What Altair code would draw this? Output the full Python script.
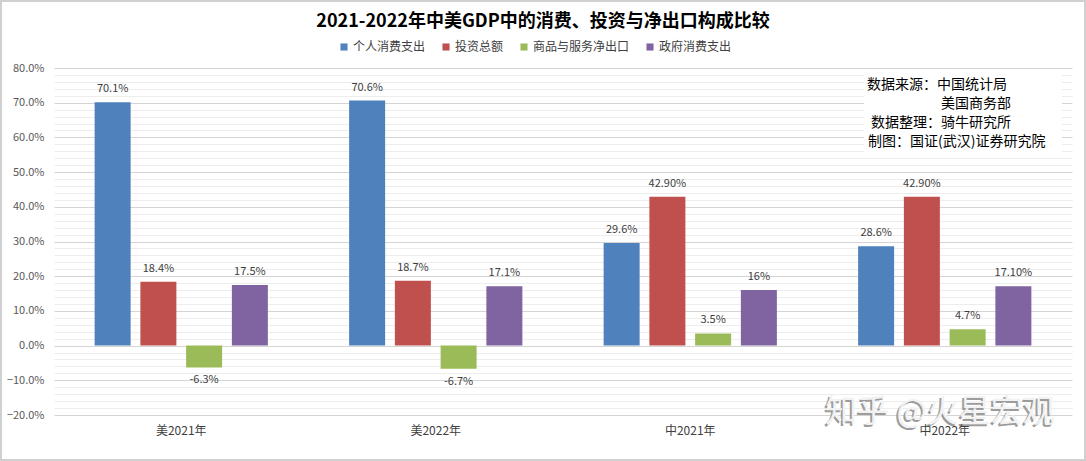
import altair as alt
import pandas as pd

groups = ["美2021年", "美2022年", "中2021年", "中2022年"]
series = ["个人消费支出", "投资总额", "商品与服务净出口", "政府消费支出"]
colors = ["#4F81BD", "#C0504D", "#9BBB59", "#8064A2"]

personal = [70.1, 70.6, 29.6, 28.6]
invest = [18.4, 18.7, 42.9, 42.9]
netexp = [-6.3, -6.7, 3.5, 4.7]
gov = [17.5, 17.1, 16.0, 17.1]

personal_lbl = ["70.1%", "70.6%", "29.6%", "28.6%"]
invest_lbl = ["18.4%", "18.7%", "42.90%", "42.90%"]
netexp_lbl = ["-6.3%", "-6.7%", "3.5%", "4.7%"]
gov_lbl = ["17.5%", "17.1%", "16%", "17.10%"]

title_text = "2021-2022年中美GDP中的消费、投资与净出口构成比较"
note_lines = ["数据来源：中国统计局", "美国商务部", "数据整理：骑牛研究所", "制图：国证(武汉)证券研究院"]
watermark = "知乎 @火星宏观"

y_ticks = list(range(-20, 81, 2))

rows = []
for s, vals, lbls in zip(series, [personal, invest, netexp, gov],
                         [personal_lbl, invest_lbl, netexp_lbl, gov_lbl]):
    for g, v, l in zip(groups, vals, lbls):
        rows.append({"group": g, "series": s, "value": v, "label": l})
df = pd.DataFrame(rows)

FONT = "Noto Sans CJK SC"
W, H = 1018, 347
PL, PT = 54, 68

x_enc = alt.X("group:N", sort=groups, title=None,
              scale=alt.Scale(paddingInner=0, paddingOuter=0),
              axis=alt.Axis(labelAngle=0, ticks=False, domain=False, grid=False,
                            labelFontSize=12, labelColor="#404040", labelPadding=10,
                            labelFont=FONT, zindex=1))
xoff = alt.XOffset("series:N", sort=series,
                   scale=alt.Scale(paddingInner=0.217, paddingOuter=0.89))
y_enc = alt.Y("value:Q", title=None,
              scale=alt.Scale(domain=[-20, 80], nice=False, zero=False),
              axis=alt.Axis(values=y_ticks, ticks=False, domain=False,
                            labelExpr="datum.value % 10 == 0 ? format(datum.value/100, '.1%') : ''",
                            labelFontSize=11, labelColor="#595959", labelPadding=10,
                            labelFont=FONT, labelOverlap=False,
                            gridColor={"condition": {"test": "datum.value % 10 == 0", "value": "#D4D4D4"},
                                       "value": "#EDEDED"},
                            gridWidth=1))

base = alt.Chart(df)

bars = base.mark_bar(size=36).encode(
    x=x_enc, xOffset=xoff, y=y_enc,
    color=alt.Color("series:N", sort=series,
                    scale=alt.Scale(domain=series, range=colors),
                    legend=alt.Legend(title=None, orient="none", direction="horizontal",
                                      legendX=284, legendY=-27, symbolType="square",
                                      symbolSize=50, symbolStrokeWidth=0,
                                      labelFontSize=12, labelColor="#404040", labelFont=FONT,
                                      columnPadding=14, labelOffset=3, padding=0)),
)

pos_lbl = base.transform_filter("datum.value >= 0").mark_text(
    baseline="bottom", dy=-8, fontSize=11, color="#404040", font=FONT
).encode(x=x_enc, xOffset=xoff, y=y_enc, text="label:N")

neg_lbl = base.transform_filter("datum.value < 0").mark_text(
    baseline="top", dy=7, fontSize=11, color="#404040", font=FONT
).encode(x=x_enc, xOffset=xoff, y=y_enc, text="label:N")

one = pd.DataFrame({"t": [title_text]})
title = alt.Chart(one).mark_text(fontSize=18, fontWeight="bold", color="#000000",
                                 font=FONT, align="center", baseline="middle").encode(
    x=alt.value(543 - PL), y=alt.value(22 - PT), text="t:N")

note_box = alt.Chart(pd.DataFrame({"a": [1]})).mark_rect(fill="white").encode(
    x=alt.value(864 - PL), x2=alt.value(1062 - PL), y=alt.value(74 - PT), y2=alt.value(153 - PT))
note_x = [867, 941, 871, 868]
note_y = [85, 104, 123, 142]
notes = []
for i, line in enumerate(note_lines):
    d = pd.DataFrame({"t": [line]})
    notes.append(alt.Chart(d).mark_text(fontSize=14, color="#000000", font=FONT,
                                        align="left", baseline="middle").encode(
        x=alt.value(note_x[i] - PL), y=alt.value(note_y[i] - PT), text="t:N"))

wm = pd.DataFrame({"t": [watermark]})
wm_shadow = alt.Chart(wm).mark_text(fontSize=32, color="#9C9C9C", font=FONT,
                                    align="center", baseline="middle").encode(
    x=alt.value(938 - PL), y=alt.value(414 - PT), text="t:N")
wm_main = alt.Chart(wm).mark_text(fontSize=32, color="#F2F2F2", font=FONT,
                                  align="center", baseline="middle").encode(
    x=alt.value(940 - PL), y=alt.value(412 - PT), text="t:N")

frame = alt.Chart(pd.DataFrame({"a": [1]})).mark_rect(
    fillOpacity=0, stroke="#D0D0D0", strokeWidth=2).encode(
    x=alt.value(-PL + 1), x2=alt.value(1086 - PL - 1),
    y=alt.value(-PT + 1), y2=alt.value(461 - PT - 1))

chart = alt.layer(bars, pos_lbl, neg_lbl, title, note_box, *notes,
                  wm_shadow, wm_main, frame).properties(
    width=W, height=H,
    autosize=alt.AutoSizeParams(type="none"),
    padding={"left": PL, "top": PT, "right": 1086 - PL - W, "bottom": 461 - PT - H},
    background="white",
).configure_view(strokeWidth=0)

chart.save("out.html", embed_options={"renderer": "svg", "actions": False})
